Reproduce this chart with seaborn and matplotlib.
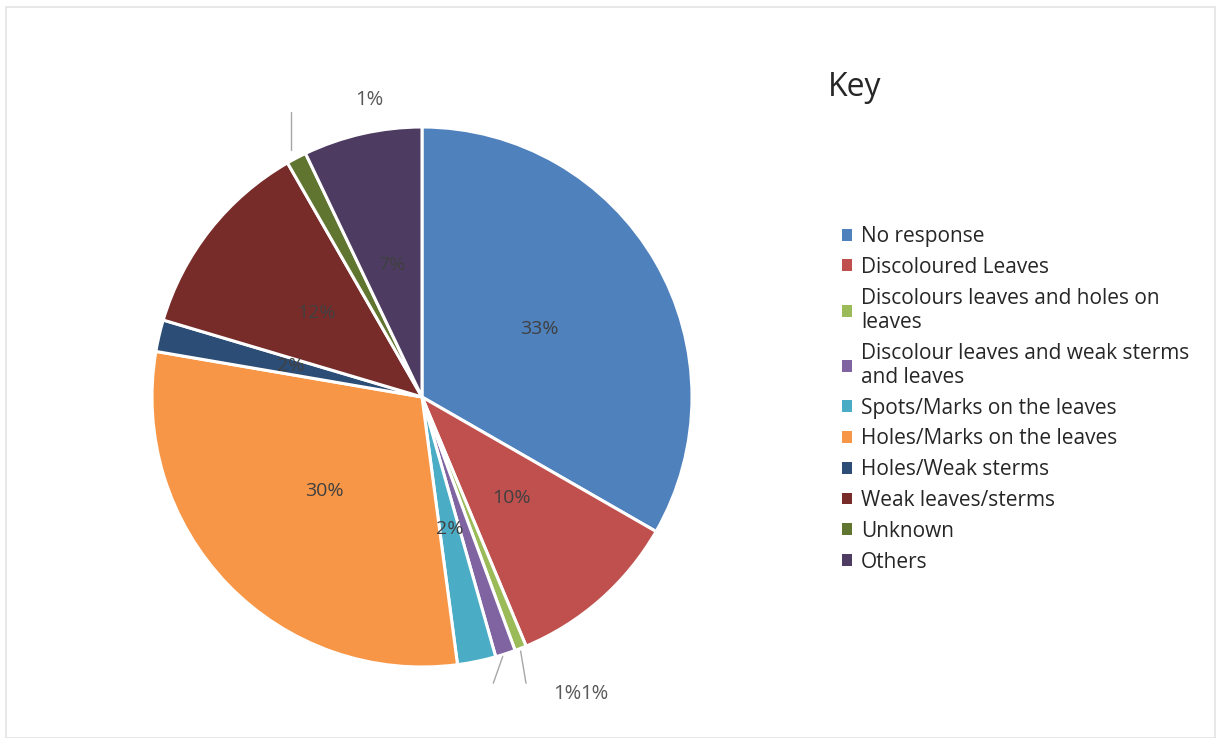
import numpy as np
import matplotlib
matplotlib.use("Agg")
import matplotlib.pyplot as plt
import seaborn as sns
from matplotlib.patches import Rectangle

categories = [
    "No response",
    "Discoloured Leaves",
    "Discolours leaves and holes on\nleaves",
    "Discolour leaves and weak sterms\nand leaves",
    "Spots/Marks on the leaves",
    "Holes/Marks on the leaves",
    "Holes/Weak sterms",
    "Weak leaves/sterms",
    "Unknown",
    "Others",
]
values = [33.3, 10.4, 0.7, 1.2, 2.3, 29.8, 1.9, 12.1, 1.2, 7.1]
colors = ["#4F81BD", "#C0504D", "#9BBB59", "#8064A2", "#4BACC6",
          "#F79646", "#2C4D75", "#772C2A", "#5F7530", "#4D3B62"]
legend_title = "Key"

sns.set_theme(style="white")
plt.rcParams["font.family"] = ["Open Sans", "DejaVu Sans"]

W, H = 1220, 738
fig = plt.figure(figsize=(W / 100, H / 100), dpi=100)
fig.patch.set_facecolor("white")

# light frame
fig.patches.append(Rectangle((6 / W, 0), (1215 - 6) / W, (738 - 7) / H,
                             transform=fig.transFigure, fill=False,
                             edgecolor="#E4E4E4", linewidth=1.2))

cx, cy, R, pad = 422, 397, 270, 300
ax = fig.add_axes([(cx - pad) / W, (H - cy - pad) / H, 2 * pad / W, 2 * pad / H])
ax.axis("off")

total = sum(values)
wedges, _ = ax.pie(values, colors=colors, startangle=90, counterclock=False,
                   radius=1.0, wedgeprops=dict(edgecolor="white", linewidth=2.2))
lim = pad / R
ax.set_xlim(-lim, lim)
ax.set_ylim(-lim, lim)
ax.set_aspect("equal")

inside_color = "#404040"
outside = {2, 3, 8}
for i, w in enumerate(wedges):
    pct = "%d%%" % round(values[i] / total * 100)
    mid = np.deg2rad((w.theta1 + w.theta2) / 2)
    if i not in outside:
        ax.text(0.5 * np.cos(mid), 0.5 * np.sin(mid), pct, ha="center", va="center",
                fontsize=14, color=inside_color)

# outside labels with leader lines
lab_color = "#595959"
def edge(i):
    w = wedges[i]
    mid = np.deg2rad((w.theta1 + w.theta2) / 2)
    return np.cos(mid), np.sin(mid)

# Unknown
x0, y0 = edge(8)
ax.plot([x0 - 0.02, x0 - 0.02], [y0 + 0.03, 1.055], color="#A6A6A6", lw=1)
ax.text(x0 + 0.27, 1.10, "%d%%" % round(values[8] / total * 100), ha="center",
        va="center", fontsize=14.5, color=lab_color)
# Discolours leaves and holes (green)
x0, y0 = edge(2)
ax.plot([x0, x0 + 0.02], [y0 - 0.01, -1.06], color="#A6A6A6", lw=1)
# Discolour leaves and weak (purple)
x1, y1 = edge(3)
ax.plot([x1 - 0.01, x1 - 0.045], [y1 - 0.01, -1.06], color="#A6A6A6", lw=1)
ax.text(0.537, -1.10, "%d%%" % round(values[3] / total * 100), ha="center",
        va="center", fontsize=14.5, color=lab_color)
ax.text(0.637, -1.10, "%d%%" % round(values[2] / total * 100), ha="center",
        va="center", fontsize=14.5, color=lab_color)

# Key title
fig.text(828 / W, 1 - 88 / H, legend_title, fontsize=23, color="#262626",
         ha="left", va="center")

leg = fig.legend(wedges, categories, loc="upper left",
                 bbox_to_anchor=(842 / W, 1 - 226 / H), frameon=False,
                 fontsize=15, handlelength=0.5, handleheight=0.5,
                 handletextpad=0.42, labelspacing=0.47, borderpad=0,
                 borderaxespad=0)
for t in leg.get_texts():
    t.set_color("#262626")
for h in leg.legend_handles:
    h.set_edgecolor("none")

fig.savefig("out.png", dpi=100, facecolor="white")
